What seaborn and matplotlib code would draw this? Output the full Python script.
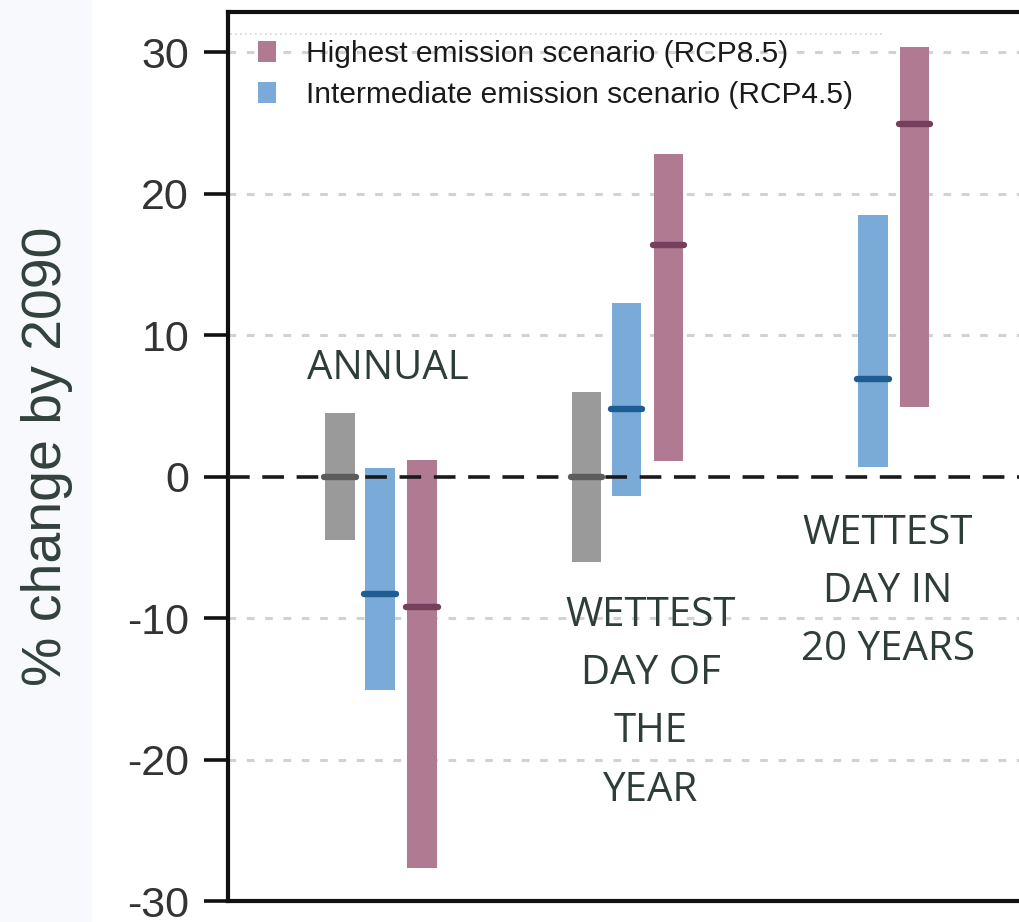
import matplotlib
matplotlib.use("Agg")
import matplotlib.pyplot as plt
from matplotlib.patches import Patch, Rectangle
import numpy as np
import pandas as pd
import seaborn as sns

# Projected % change in precipitation by 2090
groups = ["ANNUAL", "WETTEST\nDAY OF\nTHE\nYEAR", "WETTEST\nDAY IN\n20 YEARS"]
scenarios = ["Natural variability", "Intermediate emission scenario (RCP4.5)",
             "Highest emission scenario (RCP8.5)"]

# low / median / high for each group, per scenario (None = not shown)
natural_low = [-4.5, -6.0, None]
natural_mid = [0.0, 0.0, None]
natural_high = [4.5, 6.0, None]

rcp45_low = [-15.1, -1.4, 0.7]
rcp45_mid = [-8.3, 4.8, 6.9]
rcp45_high = [0.6, 12.3, 18.5]

rcp85_low = [-27.7, 1.1, 4.9]
rcp85_mid = [-9.2, 16.4, 24.9]
rcp85_high = [1.2, 22.8, 30.4]

yticks = [-30, -20, -10, 0, 10, 20, 30]

rows = []
for name, lo, mid, hi in [
    (scenarios[0], natural_low, natural_mid, natural_high),
    (scenarios[1], rcp45_low, rcp45_mid, rcp45_high),
    (scenarios[2], rcp85_low, rcp85_mid, rcp85_high),
]:
    for gi, g in enumerate(groups):
        if lo[gi] is None:
            continue
        rows.append(dict(group=gi, scenario=name, low=lo[gi], mid=mid[gi], high=hi[gi]))
df = pd.DataFrame(rows)

fill = {scenarios[0]: "#9a9a9a", scenarios[1]: "#7aaad7", scenarios[2]: "#b07a92"}
edge = {scenarios[0]: "#5c5c5c", scenarios[1]: "#1d5d93", scenarios[2]: "#74405c"}
offset = {scenarios[0]: -0.162, scenarios[1]: 0.0, scenarios[2]: 0.17}
bar_w = 0.12

sns.set_theme(style="white")
plt.rcParams["font.family"] = ["Liberation Sans", "DejaVu Sans"]

fig = plt.figure(figsize=(10.2, 9.22), dpi=100)
fig.patch.set_facecolor("white")
fig.add_artist(Rectangle((0, 0), 92 / 1020, 1, transform=fig.transFigure,
                         facecolor="#f7f9fc", edgecolor="none", zorder=0))

ax = fig.add_axes([228 / 1020, 21 / 922, 800 / 1020, 889 / 922])
ax.set_facecolor("white")

# grid lines
for t in yticks:
    if t in (0, -30):
        continue
    ax.axhline(t, color="#d2d2d2", lw=2.2, ls=(0, (2.5, 3.5)), zorder=1)
ax.axhline(0, color="#1a1a1a", lw=2.6, ls=(0, (6, 3.5)), zorder=3)

# range bars with median marks
for _, r in df.iterrows():
    x = r["group"] + offset[r["scenario"]]
    ax.bar(x, r["high"] - r["low"], bottom=r["low"], width=bar_w,
           color=fill[r["scenario"]], edgecolor="none", zorder=2)
    ax.hlines(r["mid"], x - bar_w / 2 - 0.004, x + bar_w / 2 + 0.004,
              color=edge[r["scenario"]], lw=4.6, zorder=4, capstyle="round")

ax.set_xlim(-0.617, 2.63)
ax.set_ylim(-30, 32.85)
ax.set_yticks(yticks)
ax.set_yticklabels([str(t) for t in yticks], fontsize=31, color="#333333")
ax.set_xticks([])
ax.tick_params(axis="y", direction="out", length=17, width=2.6, color="#111111",
               pad=11, left=True)
sns.despine(ax=ax, right=True, top=False)
for s in ["left", "top", "bottom"]:
    ax.spines[s].set_color("#111111")
    ax.spines[s].set_linewidth(3)

ax.set_ylabel("% change by 2090", fontsize=40, color="#33413c", labelpad=39)

# category labels
lab_kw = dict(ha="center", va="center", fontsize=29, color="#2f3d38",
              family=["Open Sans", "DejaVu Sans"], linespacing=1.58)
ax.text(0.03, 7.6, groups[0], **lab_kw)
ax.text(1.1, -16.0, groups[1], **lab_kw)
ax.text(2.06, -8.15, groups[2], **lab_kw)

# legend
handles = [Patch(facecolor=fill[scenarios[2]], edgecolor="none"),
           Patch(facecolor=fill[scenarios[1]], edgecolor="none")]
leg = ax.legend(handles, [scenarios[2], scenarios[1]], loc="upper left",
                bbox_to_anchor=(0.023, 0.982), frameon=False, fontsize=21.5,
                handlelength=0.6, handleheight=0.7, handletextpad=1.0,
                labelspacing=0.45, borderaxespad=0)
for t in leg.get_texts():
    t.set_color("#1a1a1a")
ax.plot([0.003, 0.82], [0.975, 0.975], transform=ax.transAxes, color="#d5d5d5",
        lw=1.2, ls=(0, (1, 2)), zorder=1)

fig.savefig("out.png", dpi=100)
